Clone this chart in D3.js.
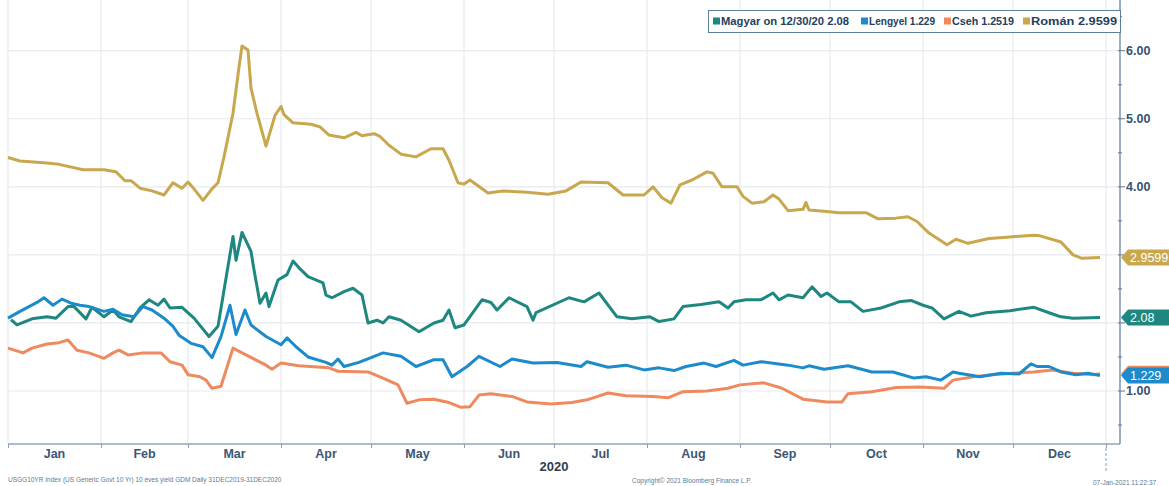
<!DOCTYPE html>
<html>
<head>
<meta charset="utf-8">
<script src="https://cdnjs.cloudflare.com/ajax/libs/d3/7.8.5/d3.min.js"></script>
<style>
body { margin: 0; background: #fff; }
svg { display: block; }
text { font-family: "Liberation Sans", Arial, sans-serif; }
</style>
</head>
<body>
<div id="chart"></div>
<script>
// yields, [month-day, value]
var roman = [["01-01",4.43],["01-05",4.38],["01-14",4.35],["01-18",4.33],["01-26",4.25],["02-02",4.25],["02-06",4.22],["02-09",4.09],["02-11",4.09],["02-14",3.98],["02-18",3.94],["02-22",3.88],["02-25",4.06],["02-28",3.98],["03-01",4.07],["03-03",3.97],["03-06",3.80],["03-09",3.97],["03-11",4.06],["03-13",4.44],["03-16",5.08],["03-18",5.76],["03-19",6.07],["03-21",6.01],["03-22",5.45],["03-24",5.08],["03-27",4.60],["03-30",5.05],["04-01",5.18],["04-02",5.06],["04-05",4.94],["04-11",4.92],["04-14",4.88],["04-17",4.76],["04-22",4.72],["04-26",4.80],["04-28",4.75],["05-02",4.78],["05-04",4.74],["05-07",4.61],["05-11",4.48],["05-16",4.44],["05-21",4.56],["05-25",4.56],["05-27",4.39],["05-30",4.06],["06-01",4.04],["06-03",4.10],["06-09",3.91],["06-14",3.94],["06-22",3.92],["06-29",3.89],["07-05",3.94],["07-10",4.07],["07-19",4.06],["07-24",3.88],["07-31",3.88],["08-03",4.00],["08-06",3.84],["08-09",3.76],["08-12",4.03],["08-16",4.10],["08-21",4.22],["08-23",4.20],["08-26",4.00],["08-31",4.00],["09-02",3.86],["09-05",3.76],["09-09",3.78],["09-12",3.88],["09-14",3.82],["09-17",3.65],["09-22",3.67],["09-23",3.77],["09-24",3.66],["09-29",3.64],["10-04",3.62],["10-13",3.62],["10-17",3.53],["10-23",3.54],["10-27",3.56],["10-30",3.49],["11-03",3.32],["11-09",3.15],["11-12",3.23],["11-16",3.17],["11-23",3.24],["11-29",3.26],["12-08",3.29],["12-10",3.28],["12-17",3.19],["12-21",3.00],["12-24",2.95],["12-30",2.96]];

var magyar = [["01-02",2.05],["01-04",1.97],["01-09",2.06],["01-14",2.09],["01-17",2.07],["01-21",2.24],["01-23",2.24],["01-27",2.06],["01-29",2.23],["02-02",2.09],["02-05",2.19],["02-07",2.09],["02-11",2.02],["02-14",2.22],["02-17",2.34],["02-20",2.26],["02-22",2.35],["02-24",2.22],["02-28",2.23],["03-03",2.07],["03-08",1.80],["03-11",1.95],["03-13",2.48],["03-16",3.27],["03-17",2.92],["03-19",3.33],["03-22",3.05],["03-23",2.78],["03-25",2.29],["03-27",2.44],["03-28",2.24],["03-31",2.63],["04-03",2.71],["04-05",2.91],["04-07",2.81],["04-10",2.68],["04-15",2.59],["04-16",2.41],["04-18",2.37],["04-22",2.46],["04-25",2.51],["04-28",2.41],["04-30",2.00],["05-03",2.04],["05-05",2.00],["05-07",2.09],["05-11",2.04],["05-17",1.87],["05-22",2.00],["05-25",2.04],["05-27",2.19],["05-29",1.93],["06-01",1.97],["06-07",2.34],["06-10",2.30],["06-12",2.19],["06-16",2.37],["06-22",2.24],["06-24",2.04],["06-25",2.15],["07-06",2.37],["07-11",2.31],["07-16",2.44],["07-22",2.09],["07-27",2.06],["08-02",2.09],["08-05",2.02],["08-10",2.06],["08-13",2.24],["08-19",2.27],["08-25",2.31],["08-28",2.22],["08-30",2.31],["09-03",2.34],["09-08",2.34],["09-12",2.44],["09-14",2.34],["09-17",2.41],["09-22",2.37],["09-25",2.53],["09-28",2.39],["09-30",2.44],["10-04",2.31],["10-08",2.31],["10-12",2.17],["10-18",2.22],["10-24",2.31],["10-28",2.33],["11-01",2.26],["11-04",2.22],["11-08",2.06],["11-13",2.17],["11-17",2.10],["11-22",2.15],["11-30",2.18],["12-08",2.23],["12-13",2.15],["12-17",2.09],["12-21",2.07],["12-30",2.08]];

var lengyel = [["01-01",2.07],["01-05",2.17],["01-11",2.31],["01-13",2.37],["01-16",2.26],["01-19",2.35],["01-22",2.29],["01-25",2.26],["01-28",2.24],["02-02",2.17],["02-05",2.20],["02-08",2.12],["02-12",2.09],["02-15",2.24],["02-18",2.19],["02-22",2.07],["02-25",1.95],["02-27",1.82],["03-02",1.70],["03-06",1.65],["03-09",1.49],["03-12",1.80],["03-15",2.26],["03-17",1.83],["03-20",2.19],["03-22",1.97],["03-27",1.80],["04-01",1.68],["04-03",1.78],["04-06",1.65],["04-10",1.50],["04-16",1.42],["04-18",1.38],["04-20",1.47],["04-22",1.36],["04-27",1.42],["05-05",1.56],["05-11",1.51],["05-16",1.36],["05-22",1.46],["05-25",1.46],["05-28",1.21],["06-02",1.36],["06-06",1.51],["06-13",1.36],["06-17",1.47],["06-24",1.41],["07-02",1.42],["07-10",1.36],["07-12",1.43],["07-19",1.35],["07-25",1.38],["07-31",1.31],["08-05",1.34],["08-10",1.30],["08-14",1.36],["08-20",1.41],["08-24",1.36],["08-30",1.45],["09-02",1.38],["09-08",1.43],["09-17",1.38],["09-22",1.34],["09-24",1.37],["09-29",1.32],["10-07",1.37],["10-15",1.28],["10-22",1.28],["10-29",1.19],["11-02",1.21],["11-07",1.16],["11-11",1.28],["11-13",1.26],["11-20",1.21],["11-27",1.26],["12-03",1.25],["12-07",1.40],["12-09",1.36],["12-13",1.36],["12-17",1.28],["12-22",1.24],["12-26",1.26],["12-30",1.229]];

var cseh = [["01-01",1.63],["01-06",1.56],["01-09",1.63],["01-14",1.69],["01-18",1.71],["01-21",1.75],["01-24",1.60],["01-28",1.56],["02-02",1.48],["02-05",1.56],["02-07",1.60],["02-10",1.53],["02-15",1.56],["02-21",1.56],["02-24",1.43],["02-28",1.38],["03-01",1.24],["03-05",1.21],["03-07",1.16],["03-09",1.04],["03-12",1.07],["03-16",1.63],["03-19",1.56],["03-27",1.38],["03-29",1.32],["04-01",1.41],["04-07",1.37],["04-17",1.34],["04-20",1.29],["04-30",1.28],["05-05",1.19],["05-10",1.09],["05-13",0.82],["05-17",0.87],["05-22",0.88],["05-27",0.83],["05-31",0.76],["06-03",0.77],["06-06",0.94],["06-10",0.96],["06-17",0.92],["06-22",0.84],["06-30",0.81],["07-07",0.83],["07-12",0.87],["07-19",0.97],["07-25",0.93],["08-03",0.92],["08-08",0.90],["08-13",0.99],["08-21",1.00],["08-28",1.04],["09-01",1.09],["09-09",1.12],["09-15",1.04],["09-22",0.88],["09-30",0.84],["10-05",0.84],["10-07",0.96],["10-15",0.99],["10-23",1.05],["10-31",1.06],["11-08",1.04],["11-11",1.16],["11-18",1.21],["11-24",1.24],["12-01",1.26],["12-08",1.28],["12-14",1.31],["12-21",1.26],["12-28",1.24],["12-30",1.2519]];

var seriesNames = ["Magyar on 12/30/20 2.08", "Lengyel 1.229", "Cseh 1.2519", "Román 2.9599"];
var lastLabels = ["2.08", "1.229", "", "2.9599"];   // Cseh tag sits under the Lengyel one
var yTicks = [1, 2, 3, 4, 5, 6];
var yTickLabels = [1, 4, 5, 6];   // 2.00 and 3.00 are covered by the value tags

var svgWidth = 1169;
var svgHeight = 486;

var colors = {
    magyar: "#1d8780",
    lengyel: "#1b8bcb",
    cseh: "#ee8a5e",
    roman: "#c8a74d"
};

var parseDay = d3.timeParse("%Y-%m-%d");

var x = d3.scaleTime()
    .domain([new Date(2020, 0, 1), new Date(2021, 0, 1)])
    .range([8, 1106]);

var y = d3.scaleLinear()
    .domain([1, 6])
    .range([391, 50.7]);

var plotTop = 0, plotBottom = 444, axisX = 1120;

var svg = d3.select("#chart")
    .append("svg")
    .attr("width", svgWidth)
    .attr("height", svgHeight);

// grid
var months = d3.timeMonth.range(new Date(2020, 0, 1), new Date(2021, 0, 2));
svg.append("g").selectAll("line")
    .data(months)
    .enter().append("line")
    .attr("x1", d => x(d)).attr("x2", d => x(d))
    .attr("y1", plotTop).attr("y2", plotBottom)
    .attr("stroke", "#e6eaee")
    .attr("stroke-width", 1.2);

svg.append("g").selectAll("line")
    .data(yTicks)
    .enter().append("line")
    .attr("x1", 8).attr("x2", axisX)
    .attr("y1", d => y(d)).attr("y2", d => y(d))
    .attr("stroke", "#e6eaee")
    .attr("stroke-width", 1.2);

// lines
var line = d3.line()
    .x(d => x(parseDay("2020-" + d[0])))
    .y(d => y(d[1]));

var drawOrder = [[roman, colors.roman], [cseh, colors.cseh], [magyar, colors.magyar], [lengyel, colors.lengyel]];
drawOrder.forEach(function(s) {
    svg.append("path")
        .datum(s[0])
        .attr("d", line)
        .attr("fill", "none")
        .attr("stroke", s[1])
        .attr("stroke-width", 3)
        .attr("stroke-linejoin", "round");
});

// right axis
var rightAxis = svg.append("g")
    .attr("transform", `translate(${axisX},0)`);
rightAxis.append("line")
    .attr("x1", 0).attr("x2", 0)
    .attr("y1", plotTop).attr("y2", plotBottom)
    .attr("stroke", "#5b7a9c")
    .attr("stroke-width", 1.2);

var minor = d3.range(0.5, 6.6, 0.5).filter(v => v % 1 !== 0);
rightAxis.selectAll(".minor")
    .data(minor)
    .enter().append("line")
    .attr("x1", -2).attr("x2", 2)
    .attr("y1", d => y(d)).attr("y2", d => y(d))
    .attr("stroke", "#5b7a9c");

rightAxis.selectAll(".major")
    .data(yTicks)
    .enter().append("line")
    .attr("x1", -2).attr("x2", 5)
    .attr("y1", d => y(d)).attr("y2", d => y(d))
    .attr("stroke", "#5b7a9c");

rightAxis.selectAll("text")
    .data(yTickLabels)
    .enter().append("text")
    .attr("x", 6)
    .attr("y", d => y(d))
    .attr("dy", "0.35em")
    .attr("font-size", 12.5)
    .attr("font-weight", "bold")
    .attr("fill", "#34526f")
    .text(d => d3.format(".2f")(d));

// last value tags
var tags = [
    [cseh, colors.cseh, lastLabels[2]],
    [lengyel, colors.lengyel, lastLabels[1]],
    [magyar, colors.magyar, lastLabels[0]],
    [roman, colors.roman, lastLabels[3]]
];
tags.forEach(function(t) {
    var yc = y(t[0][t[0].length - 1][1]);
    svg.append("path")
        .attr("d", `M${axisX + 1},${yc} L${axisX + 8},${yc - 8} L${svgWidth},${yc - 8} L${svgWidth},${yc + 8} L${axisX + 8},${yc + 8} Z`)
        .attr("fill", t[1]);
    if (t[2]) {
        svg.append("text")
            .attr("x", axisX + 10)
            .attr("y", yc)
            .attr("dy", "0.36em")
            .attr("font-size", 12.5)
            .attr("fill", "#fff")
            .text(t[2]);
    }
});

// bottom axis
var bottomAxis = d3.axisBottom(x)
    .ticks(d3.timeMonth.every(1))
    .tickSize(4)
    .tickFormat("");

var xAxis = svg.append("g")
    .attr("transform", `translate(0, ${plotBottom})`)
    .call(bottomAxis);
xAxis.select(".domain")
    .attr("d", `M8,0H${axisX}`)
    .attr("stroke", "#5b7a9c")
    .attr("stroke-width", 1.2);
xAxis.selectAll(".tick line").attr("stroke", "#8aa0b8");

svg.append("g").selectAll("text")
    .data(months.slice(0, 12))
    .enter().append("text")
    .attr("x", d => (x(d) + x(d3.timeMonth.offset(d, 1))) / 2)
    .attr("y", 458)
    .attr("text-anchor", "middle")
    .attr("font-size", 12.5)
    .attr("font-weight", "bold")
    .attr("fill", "#3a5775")
    .text(d => d3.timeFormat("%b")(d));

svg.append("text")
    .attr("x", 554).attr("y", 471)
    .attr("text-anchor", "middle")
    .attr("font-size", 13)
    .attr("font-weight", "bold")
    .attr("fill", "#2c3e50")
    .text("2020");

svg.append("line")
    .attr("x1", 1106).attr("x2", 1106)
    .attr("y1", 448).attr("y2", 472)
    .attr("stroke", "#7f9fc0")
    .attr("stroke-dasharray", "3,2");

// legend
var legend = svg.append("g");
legend.append("rect")
    .attr("x", 708.5).attr("y", 10.5)
    .attr("width", 412).attr("height", 22)
    .attr("fill", "#fff")
    .attr("stroke", "#5f7d9c");

var legendX = [713, 861, 944, 1023];
var legendColors = [colors.magyar, colors.lengyel, colors.cseh, colors.roman];
seriesNames.forEach(function(name, i) {
    legend.append("rect")
        .attr("x", legendX[i]).attr("y", 17.5)
        .attr("width", 7).attr("height", 7)
        .attr("fill", legendColors[i]);
    legend.append("text")
        .attr("x", legendX[i] + 8).attr("y", 21.5)
        .attr("dy", "0.35em")
        .attr("font-size", 11)
        .attr("font-weight", "bold")
        .attr("fill", "#23405e")
        .attr("textLength", [128, 66, 62, 86][i])
        .attr("lengthAdjust", "spacingAndGlyphs")
        .text(name);
});

// footer
svg.append("text")
    .attr("x", 8).attr("y", 482)
    .attr("font-size", 6.5)
    .attr("fill", "#5a7a9a")
    .text("USGG10YR Index (US Generic Govt 10 Yr) 10 éves yield GDM  Daily 31DEC2019-31DEC2020");

svg.append("text")
    .attr("x", 632).attr("y", 483)
    .attr("font-size", 6.5)
    .attr("fill", "#5a7a9a")
    .text("Copyright© 2021 Bloomberg Finance L.P.");

svg.append("text")
    .attr("x", 1093).attr("y", 485)
    .attr("font-size", 6.5)
    .attr("fill", "#5a7a9a")
    .text("07-Jan-2021 11:22:37");
</script>
</body>
</html>
